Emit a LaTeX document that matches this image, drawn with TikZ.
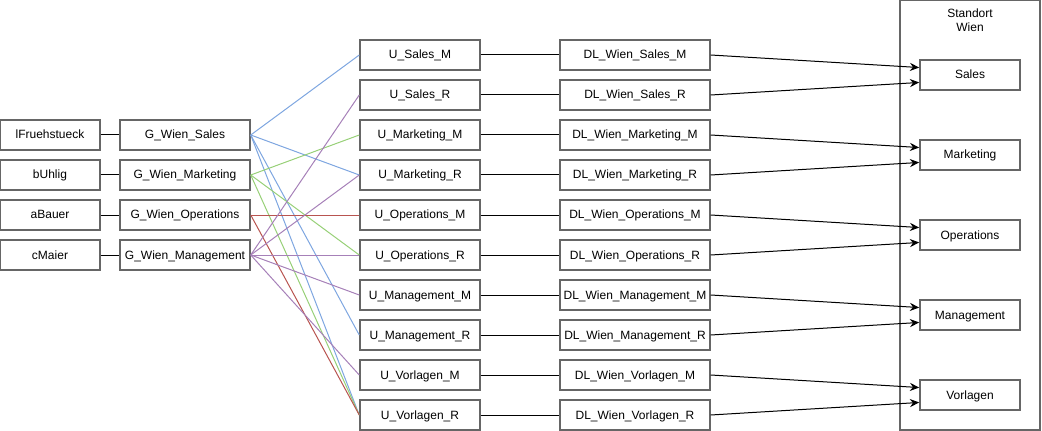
\documentclass[tikz,border=0pt]{standalone}
\usepackage{fontspec}
\setmainfont{Liberation Sans}
\usetikzlibrary{arrows.meta}

\definecolor{lnblue}{HTML}{7EA6E0}
\definecolor{lngreen}{HTML}{97D077}
\definecolor{lnred}{HTML}{B85450}
\definecolor{lnpurple}{HTML}{A680B8}

\begin{document}
\begin{tikzpicture}[x=0.75pt,y=-0.75pt,font=\fontsize{9pt}{10.5pt}\selectfont]
		\tikzset{box/.style={draw=black!60,line width=1.1pt,minimum height=22.5pt,inner sep=0pt,text height=6.5pt,text depth=0.5pt},
			user/.style={box,minimum width=75pt},
			grp/.style={box,minimum width=97.5pt},
			ubox/.style={box,minimum width=90pt},
			dlbox/.style={box,minimum width=112.5pt},
			site/.style={box,minimum width=75pt},
			link/.style={line width=0.75pt},
			flow/.style={line width=0.75pt,-{Stealth[length=7pt,width=6pt]}}}
		\useasboundingbox (0,0) rectangle (1042,431);
		% standort
		\draw [draw=black!60,line width=1.1pt] (900,0) rectangle (1040,430);
		\node (standort) [anchor=north,align=center,inner sep=0pt] at (970,9) {Standort\\Wien};
		% users
		\node [user] (ufrueh) at (50,135) {lFruehstueck};
		\node [user] (uuhlig) at (50,175) {bUhlig};
		\node [user] (ubauer) at (50,215) {aBauer};
		\node [user] (umaier) at (50,255) {cMaier};
		% groups
		\node [grp] (gsales) at (185,135) {G\_Wien\_Sales};
		\node [grp] (gmark) at (185,175) {G\_Wien\_Marketing};
		\node [grp] (goper) at (185,215) {G\_Wien\_Operations};
		\node [grp] (gmgmt) at (185,255) {G\_Wien\_Management};
		% rights
		\node [ubox] (usalesm) at (420,55) {U\_Sales\_M};
		\node [ubox] (usalesr) at (420,95) {U\_Sales\_R};
		\node [ubox] (umarkm) at (420,135) {U\_Marketing\_M};
		\node [ubox] (umarkr) at (420,175) {U\_Marketing\_R};
		\node [ubox] (uoperm) at (420,215) {U\_Operations\_M};
		\node [ubox] (uoperr) at (420,255) {U\_Operations\_R};
		\node [ubox] (umgmtm) at (420,295) {U\_Management\_M};
		\node [ubox] (umgmtr) at (420,335) {U\_Management\_R};
		\node [ubox] (uvorlm) at (420,375) {U\_Vorlagen\_M};
		\node [ubox] (uvorlr) at (420,415) {U\_Vorlagen\_R};
		% domain local groups
		\node [dlbox] (dlsalesm) at (635,55) {DL\_Wien\_Sales\_M};
		\node [dlbox] (dlsalesr) at (635,95) {DL\_Wien\_Sales\_R};
		\node [dlbox] (dlmarkm) at (635,135) {DL\_Wien\_Marketing\_M};
		\node [dlbox] (dlmarkr) at (635,175) {DL\_Wien\_Marketing\_R};
		\node [dlbox] (dloperm) at (635,215) {DL\_Wien\_Operations\_M};
		\node [dlbox] (dloperr) at (635,255) {DL\_Wien\_Operations\_R};
		\node [dlbox] (dlmgmtm) at (635,295) {DL\_Wien\_Management\_M};
		\node [dlbox] (dlmgmtr) at (635,335) {DL\_Wien\_Management\_R};
		\node [dlbox] (dlvorlm) at (635,375) {DL\_Wien\_Vorlagen\_M};
		\node [dlbox] (dlvorlr) at (635,415) {DL\_Wien\_Vorlagen\_R};
		% shares
		\node [site] (ssales) at (970,75) {Sales};
		\node [site] (smark) at (970,155) {Marketing};
		\node [site] (soper) at (970,235) {Operations};
		\node [site] (smgmt) at (970,315) {Management};
		\node [site] (svorl) at (970,395) {Vorlagen};
		% user -> group
		\draw [link] (ufrueh) -- (gsales);
		\draw [link] (uuhlig) -- (gmark);
		\draw [link] (ubauer) -- (goper);
		\draw [link] (umaier) -- (gmgmt);
		% group -> rights
		\draw [link,lnblue] (gsales.east) -- (usalesm.west);
		\draw [link,lnblue] (gsales.east) -- (umarkr.west);
		\draw [link,lnblue] (gsales.east) -- (umgmtr.west);
		\draw [link,lnblue] (gsales.east) -- (uvorlr.west);
		\draw [link,lngreen] (gmark.east) -- (umarkm.west);
		\draw [link,lngreen] (gmark.east) -- (uoperr.west);
		\draw [link,lngreen] (gmark.east) -- (uvorlr.west);
		\draw [link,lnred] (goper.east) -- (uoperm.west);
		\draw [link,lnred] (goper.east) -- (uvorlr.west);
		\draw [link,lnpurple] (gmgmt.east) -- (usalesr.west);
		\draw [link,lnpurple] (gmgmt.east) -- (umarkr.west);
		\draw [link,lnpurple] (gmgmt.east) -- (uoperr.west);
		\draw [link,lnpurple] (gmgmt.east) -- (umgmtm.west);
		\draw [link,lnpurple] (gmgmt.east) -- (uvorlm.west);
		% rights -> domain local
		\draw [link] (usalesm) -- (dlsalesm);
		\draw [link] (usalesr) -- (dlsalesr);
		\draw [link] (umarkm) -- (dlmarkm);
		\draw [link] (umarkr) -- (dlmarkr);
		\draw [link] (uoperm) -- (dloperm);
		\draw [link] (uoperr) -- (dloperr);
		\draw [link] (umgmtm) -- (dlmgmtm);
		\draw [link] (umgmtr) -- (dlmgmtr);
		\draw [link] (uvorlm) -- (dlvorlm);
		\draw [link] (uvorlr) -- (dlvorlr);
		% domain local -> shares
		\draw [flow] (dlsalesm.east) -- ([yshift=5.6pt]ssales.west);
		\draw [flow] (dlsalesr.east) -- ([yshift=-5.6pt]ssales.west);
		\draw [flow] (dlmarkm.east) -- ([yshift=5.6pt]smark.west);
		\draw [flow] (dlmarkr.east) -- ([yshift=-5.6pt]smark.west);
		\draw [flow] (dloperm.east) -- ([yshift=5.6pt]soper.west);
		\draw [flow] (dloperr.east) -- ([yshift=-5.6pt]soper.west);
		\draw [flow] (dlmgmtm.east) -- ([yshift=5.6pt]smgmt.west);
		\draw [flow] (dlmgmtr.east) -- ([yshift=-5.6pt]smgmt.west);
		\draw [flow] (dlvorlm.east) -- ([yshift=5.6pt]svorl.west);
		\draw [flow] (dlvorlr.east) -- ([yshift=-5.6pt]svorl.west);
	\end{tikzpicture}
\end{document}
